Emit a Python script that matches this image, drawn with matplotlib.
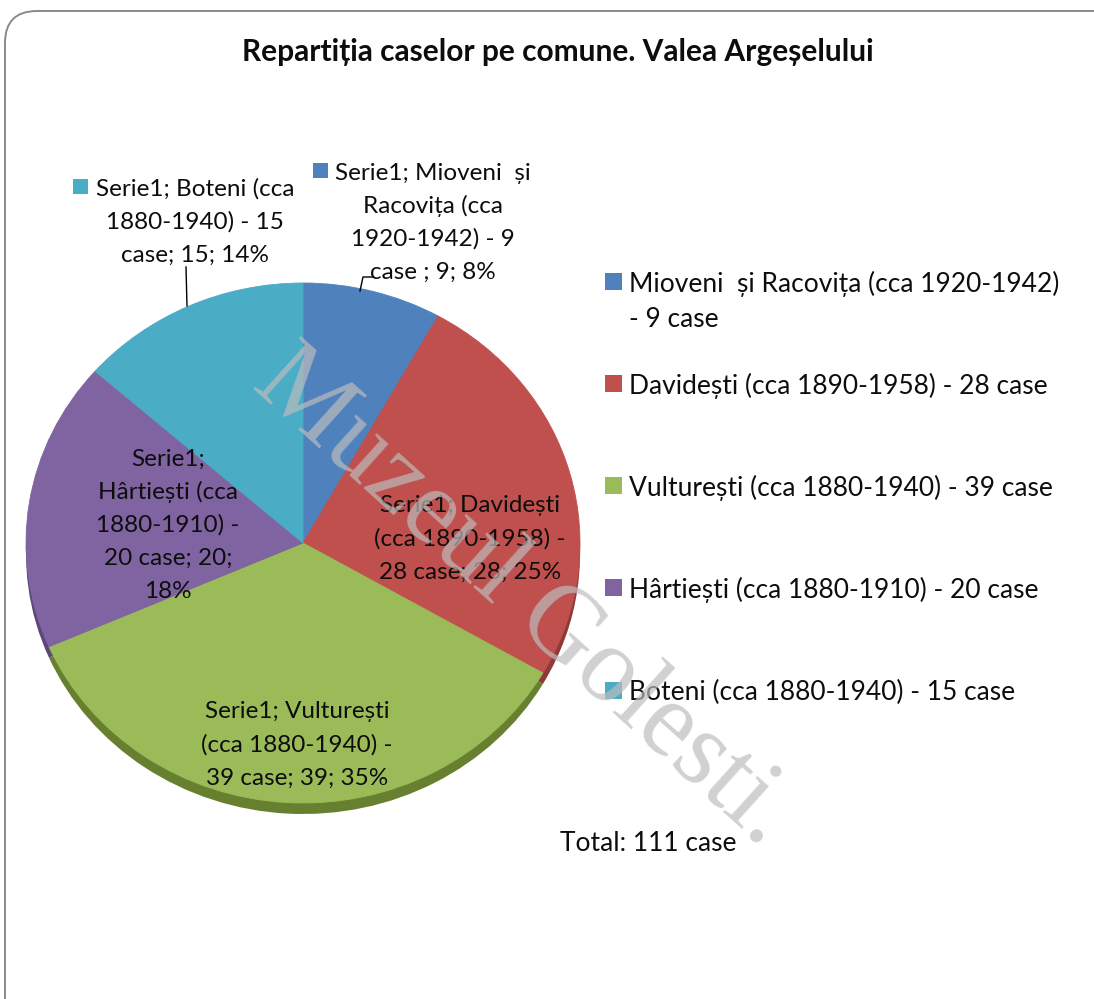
import matplotlib.pyplot as plt
from matplotlib.patches import FancyBboxPatch, Rectangle

# date
categorii = ["Mioveni  și Racovița (cca 1920-1942) - 9 case ",
             "Davidești (cca 1890-1958) - 28 case",
             "Vulturești (cca 1880-1940) - 39 case",
             "Hârtiești (cca 1880-1910) - 20 case",
             "Boteni (cca 1880-1940) - 15 case"]
case = [9, 28, 39, 20, 15]
serie = "Serie1"
culori = ["#4F81BD", "#C0504D", "#9BBB59", "#8064A2", "#4BACC6"]
culori_margine = ["#3a5f8c", "#8e3a38", "#66802f", "#5c4778", "#36829a"]
titlu = "Repartiția caselor pe comune. Valea Argeșelului"
total_text = "Total: %d case" % sum(case)

# linii de text pentru etichete si legenda (asa cum sunt rupte in original)
etichete_linii = [
    ["Serie1; Mioveni  și", "Racovița (cca", "1920-1942) - 9", "case ; 9; 8%"],
    ["Serie1; Davidești", "(cca 1890-1958) -", "28 case; 28; 25%"],
    ["Serie1; Vulturești", "(cca 1880-1940) -", "39 case; 39; 35%"],
    ["Serie1;", "Hârtiești (cca", "1880-1910) -", "20 case; 20;", "18%"],
    ["Serie1; Boteni (cca", "1880-1940) - 15", "case; 15; 14%"],
]
legenda_linii = [
    ["Mioveni  și Racovița (cca 1920-1942)", "- 9 case"],
    ["Davidești (cca 1890-1958) - 28 case"],
    ["Vulturești (cca 1880-1940) - 39 case"],
    ["Hârtiești (cca 1880-1910) - 20 case"],
    ["Boteni (cca 1880-1940) - 15 case"],
]

W, H = 1094, 999
FONT = ["Lato", "DejaVu Sans"]
FS_LEG = 19
FS_ET = 17.5
TXT = "#0d0d0d"

fig = plt.figure(figsize=(W / 100, H / 100), dpi=100)
fig.patch.set_facecolor("white")

# axa pentru placinta (elipsa usor turtita, ca in Excel 3D)
cx, cy, rx, ry = 303, 543, 277, 260
xl, yl = (-1.02, 1.02), (-1.12, 1.02)
left = cx + xl[0] * rx
right = cx + xl[1] * rx
top = cy - yl[1] * ry
bottom = cy - yl[0] * ry
ax = fig.add_axes([left / W, 1 - bottom / H, (right - left) / W, (bottom - top) / H])

# marginea 3D (placinta deplasata in jos, culori inchise)
ax.pie(case, colors=culori_margine, startangle=90, counterclock=False,
       center=(0, -11 / ry), wedgeprops=dict(linewidth=0))
wedges, _ = ax.pie(case, colors=culori, startangle=90, counterclock=False,
                   wedgeprops=dict(linewidth=0.6))
for w, c in zip(wedges, culori):
    w.set_edgecolor(c)
ax.set_aspect("auto")
ax.set_xlim(*xl)
ax.set_ylim(*yl)
ax.axis("off")

# strat pentru text, in pixeli
ov = fig.add_axes([0, 0, 1, 1], zorder=5)
ov.set_xlim(0, W)
ov.set_ylim(H, 0)
ov.axis("off")

ov.add_patch(FancyBboxPatch((5, 11), 1150, 1100,
                            boxstyle="round,pad=0,rounding_size=32",
                            fc="none", ec="#8a8a8a", lw=1.4, clip_on=False))

ov.text(558, 52, titlu, ha="center", va="center", fontsize=21.5,
        fontweight="bold", family=FONT, color=TXT)

# etichete de date: centru x, y-ul primei linii, pas 33 px
pozitii_etichete = [(433, 171), (470, 504), (297, 710), (168, 457), (195, 187)]
patrate_etichete = [(320, 170), (371, 502), (183, 710), (82, 453), (80, 186)]
for linii, (x, y0), (sx, sy), c in zip(etichete_linii, pozitii_etichete,
                                       patrate_etichete, culori):
    for k, linie in enumerate(linii):
        ov.text(x, y0 + 33 * k, linie, ha="center", va="center_baseline",
                fontsize=FS_ET, family=FONT, color=TXT)
    ov.add_patch(Rectangle((sx - 7.5, sy - 7.5), 15, 15, fc=c, ec="none"))

# linii de legatura
ov.plot([360, 363, 373], [291, 277, 277], color="black", lw=1)
ov.plot([186, 187], [267, 306], color="black", lw=1)

# legenda
leg_y = [281, 383, 485, 587, 690]
for linii, y, c in zip(legenda_linii, leg_y, culori):
    ov.add_patch(Rectangle((605, y - 8.5), 17, 17, fc=c, ec="none"))
    for k, linie in enumerate(linii):
        ov.text(629, y + 36 * k, linie, ha="left", va="center_baseline",
                fontsize=FS_LEG, family=FONT, color=TXT)

ov.text(560, 841, total_text, ha="left", va="center_baseline", fontsize=FS_LEG,
        family=FONT, color=TXT)

# filigran
ov.text(524, 598, "Muzeul Golesti.", ha="center", va="center",
        rotation=-42, rotation_mode="anchor", fontsize=77,
        family=["Liberation Serif", "DejaVu Serif"], color="#bdbdbd",
        alpha=0.7, zorder=10)

fig.savefig("out.png", dpi=100, facecolor="white")
